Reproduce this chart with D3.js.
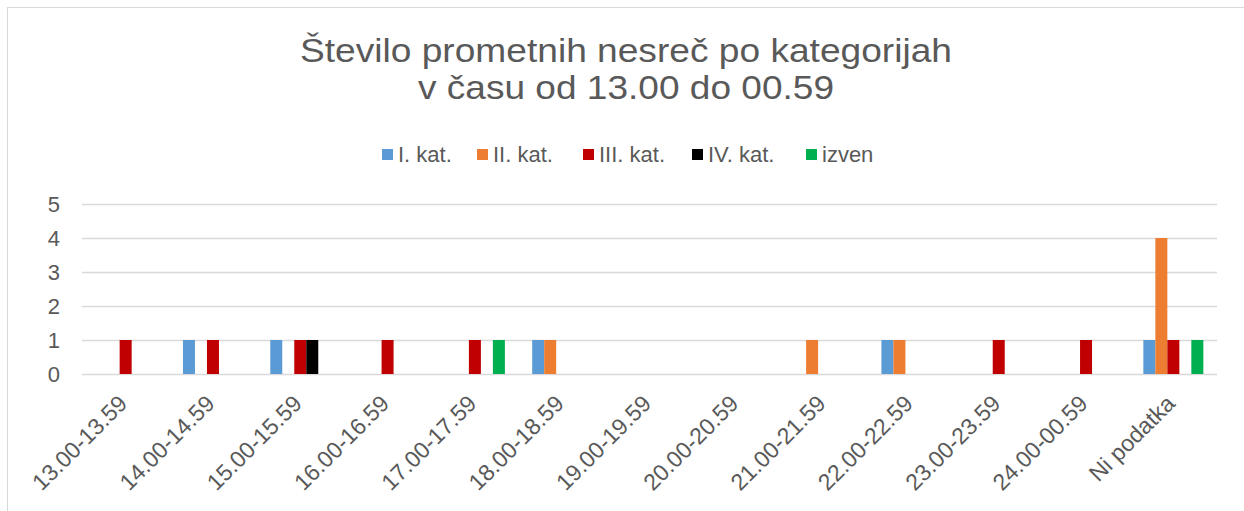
<!DOCTYPE html>
<html>
<head>
<meta charset="utf-8">
<script src="https://cdn.jsdelivr.net/npm/d3@7"></script>
<style>
  html, body { margin: 0; padding: 0; background: #fff; }
  svg { display: block; font-family: "Liberation Sans", Arial, sans-serif; }
</style>
</head>
<body>
<svg id="chart" width="1244" height="511"></svg>
<script>
const categories = ["13.00-13.59", "14.00-14.59", "15.00-15.59", "16.00-16.59", "17.00-17.59",
    "18.00-18.59", "19.00-19.59", "20.00-20.59", "21.00-21.59", "22.00-22.59",
    "23.00-23.59", "24.00-00.59", "Ni podatka"];
const seriesNames = ["I. kat.", "II. kat.", "III. kat.", "IV. kat.", "izven"];
const seriesColors = ["#5B9BD5", "#ED7D31", "#C00000", "#000000", "#00B050"];
const kat1  = [0, 1, 1, 0, 0, 1, 0, 0, 0, 1, 0, 0, 1];
const kat2  = [0, 0, 0, 0, 0, 1, 0, 0, 1, 1, 0, 0, 4];
const kat3  = [1, 1, 1, 1, 1, 0, 0, 0, 0, 0, 1, 1, 1];
const kat4  = [0, 0, 1, 0, 0, 0, 0, 0, 0, 0, 0, 0, 0];
const izven = [0, 0, 0, 0, 1, 0, 0, 0, 0, 0, 0, 0, 1];
const yTicks = [0, 1, 2, 3, 4, 5];
const titleLines = ["Število prometnih nesreč po kategorijah", "v času od 13.00 do 00.59"];

const seriesValues = [kat1, kat2, kat3, kat4, izven];
const textColor = "#595959";
const gridColor = "#d9d9d9";

const svg = d3.select("#chart");

// chart frame (right and bottom edges fall outside the picture)
svg.append("rect")
    .attr("x", 7.5).attr("y", 7.5)
    .attr("width", 1300).attr("height", 600)
    .attr("fill", "none").attr("stroke", gridColor).attr("stroke-width", 1);

// title - the original renders a bit wider than Liberation, so stretch to fit
const titleWidths = [652, 416];
svg.append("g").selectAll("text")
    .data(titleLines)
    .enter().append("text")
    .attr("x", 626).attr("y", (d, i) => 62 + i * 37)
    .attr("text-anchor", "middle")
    .attr("font-size", 33).attr("fill", textColor)
    .attr("textLength", (d, i) => titleWidths[i])
    .attr("lengthAdjust", "spacingAndGlyphs")
    .text(d => d);

const plot = { left: 82, right: 1217, top: 204, bottom: 374 };

const x0 = d3.scaleBand()
    .domain(categories)
    .range([plot.left, plot.right])
    .paddingInner(0.3127)
    .paddingOuter(0.3127 / 2);

const x1 = d3.scaleBand()
    .domain(seriesNames)
    .range([0, x0.bandwidth()]);

const y = d3.scaleLinear()
    .domain([0, 5])
    .range([plot.bottom, plot.top]);

// gridlines + y labels
const yAxis = svg.append("g")
    .attr("transform", `translate(${plot.left},0)`)
    .call(d3.axisLeft(y).tickValues(yTicks).tickFormat(d3.format("d"))
        .tickSize(-(plot.right - plot.left)).tickPadding(22));
yAxis.select(".domain").remove();
yAxis.selectAll(".tick line").attr("stroke", gridColor).attr("stroke-width", 1.3);
yAxis.selectAll(".tick text")
    .attr("font-size", 22).attr("fill", textColor)
    .attr("font-family", "Liberation Sans, Arial, sans-serif");

// bars
const barData = [];
categories.forEach((c, i) => {
    seriesNames.forEach((s, j) => {
        barData.push({ cat: c, series: s, value: seriesValues[j][i], color: seriesColors[j] });
    });
});

svg.append("g").selectAll("rect")
    .data(barData.filter(d => d.value > 0))
    .enter().append("rect")
    .attr("x", d => x0(d.cat) + x1(d.series))
    .attr("y", d => y(d.value))
    .attr("width", x1.bandwidth())
    .attr("height", d => y(0) - y(d.value))
    .attr("fill", d => d.color);

// x labels, rotated
svg.append("g").selectAll("text")
    .data(categories)
    .enter().append("text")
    .attr("transform", d => `translate(${x0(d) + x0.bandwidth() / 2 + 3},405) rotate(-45)`)
    .attr("text-anchor", "end")
    .attr("font-size", 23).attr("fill", textColor)
    .text(d => d);

// legend
const legendX = [382, 477, 583, 692, 806];
const legend = svg.append("g").selectAll("g")
    .data(seriesNames)
    .enter().append("g")
    .attr("transform", (d, i) => `translate(${legendX[i]},149)`);
legend.append("rect")
    .attr("width", 11).attr("height", 11)
    .attr("fill", (d, i) => seriesColors[i]);
legend.append("text")
    .attr("x", 16).attr("y", 13)
    .attr("font-size", 22).attr("fill", textColor)
    .text(d => d);
</script>
</body>
</html>
